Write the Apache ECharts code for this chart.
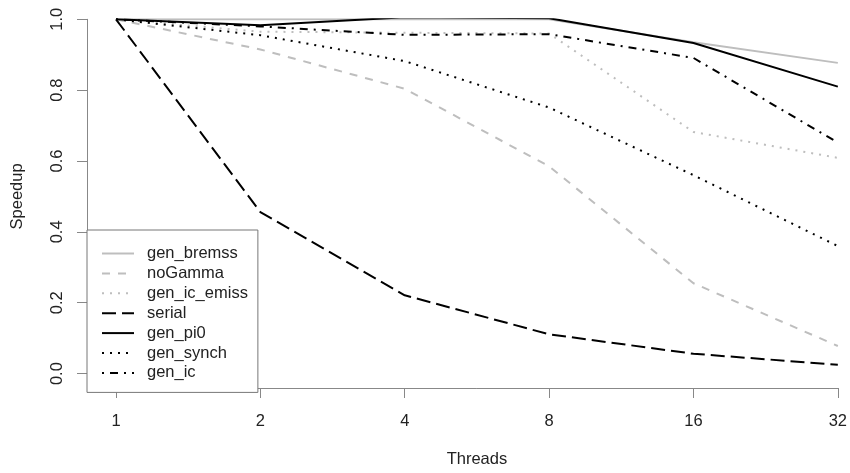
<!DOCTYPE html>
<html>
<head>
<meta charset="utf-8">
<script src="https://cdn.jsdelivr.net/npm/echarts@6/dist/echarts.min.js"></script>
<style>
html,body{margin:0;padding:0;background:#fff;}
#chart{width:850px;height:473px;}
</style>
</head>
<body>
<div id="chart"></div>
<script>
var threads = [1, 2, 4, 8, 16, 32];
var yTicks = [0.0, 0.2, 0.4, 0.6, 0.8, 1.0];
var seriesNames = ['gen_bremss', 'noGamma', 'gen_ic_emiss', 'serial', 'gen_pi0', 'gen_synch', 'gen_ic'];
var gen_bremss   = [1.000, 1.000, 1.000, 1.000, 0.935, 0.877];
var noGamma      = [1.000, 0.915, 0.804, 0.585, 0.255, 0.078];
var gen_ic_emiss = [1.000, 0.965, 0.962, 0.960, 0.682, 0.609];
var serial       = [1.000, 0.456, 0.221, 0.111, 0.056, 0.025];
var gen_pi0      = [1.000, 0.983, 1.006, 1.003, 0.933, 0.810];
var gen_synch    = [1.000, 0.955, 0.882, 0.751, 0.560, 0.360];
var gen_ic       = [1.000, 0.980, 0.956, 0.958, 0.891, 0.652];

var values = [gen_bremss, noGamma, gen_ic_emiss, serial, gen_pi0, gen_synch, gen_ic];
var GRAY = '#bebebe', BLACK = '#000000';
var colors = [GRAY, GRAY, GRAY, BLACK, BLACK, BLACK, BLACK];
var dashes = ['solid', [8, 8], [2, 6], [14, 6], 'solid', [2, 6], [2, 6, 8, 6]];
var FONT = 'Liberation Sans, Arial, sans-serif';
var FS = 16.5;

var series = seriesNames.map(function (name, i) {
  return {
    name: name,
    type: 'line',
    symbol: 'none',
    showSymbol: false,
    animation: false,
    data: threads.map(function (t, j) { return [t, values[i][j]]; }),
    lineStyle: { color: colors[i], width: 2, type: dashes[i], cap: 'butt' },
    itemStyle: { color: colors[i] }
  };
});

var chart = echarts.init(document.getElementById('chart'));
chart.setOption({
  animation: false,
  backgroundColor: '#ffffff',
  textStyle: { fontFamily: FONT },
  grid: { left: 116, right: 12, top: 19.3, bottom: 95.7, containLabel: false },
  xAxis: {
    type: 'log',
    logBase: 2,
    min: 1,
    max: 32,
    offset: 14.4,
    name: 'Threads',
    nameLocation: 'middle',
    nameGap: 63,
    nameTextStyle: { fontSize: FS, color: '#222', fontFamily: FONT },
    axisLine: { show: true, onZero: false, lineStyle: { color: '#888', width: 1 } },
    axisTick: { show: true, length: 10, lineStyle: { color: '#888' } },
    axisLabel: {
      fontSize: FS, color: '#222', margin: 25, fontFamily: FONT,
      formatter: function (v) { return String(Math.round(v)); }
    },
    splitLine: { show: false }
  },
  yAxis: {
    type: 'value',
    min: 0,
    max: 1,
    interval: 0.2,
    offset: 29,
    name: 'Speedup',
    nameLocation: 'middle',
    nameGap: 61,
    nameTextStyle: { fontSize: FS, color: '#222', fontFamily: FONT },
    axisLine: { show: true, onZero: false, lineStyle: { color: '#888', width: 1 } },
    axisTick: { show: true, length: 10, lineStyle: { color: '#888' } },
    axisLabel: {
      fontSize: FS, color: '#222', rotate: 90, margin: 21.5, fontFamily: FONT,
      formatter: function (v) {
        for (var k = 0; k < yTicks.length; k++) {
          if (Math.abs(yTicks[k] - v) < 1e-9) return yTicks[k].toFixed(1);
        }
        return v.toFixed(1);
      }
    },
    splitLine: { show: false }
  },
  legend: {
    show: true,
    orient: 'vertical',
    left: 87,
    top: 230,
    data: seriesNames,
    itemWidth: 32,
    itemHeight: 14,
    itemGap: 2.9,
    padding: [15, 10, 11, 14],
    borderColor: '#777',
    borderWidth: 1,
    backgroundColor: '#ffffff',
    selectedMode: false,
    itemStyle: { opacity: 0 },
    lineStyle: { width: 2 },
    textStyle: { fontSize: FS, color: '#222', padding: [0, 0, 0, 8], fontFamily: FONT }
  },
  series: series
});
</script>
</body>
</html>
